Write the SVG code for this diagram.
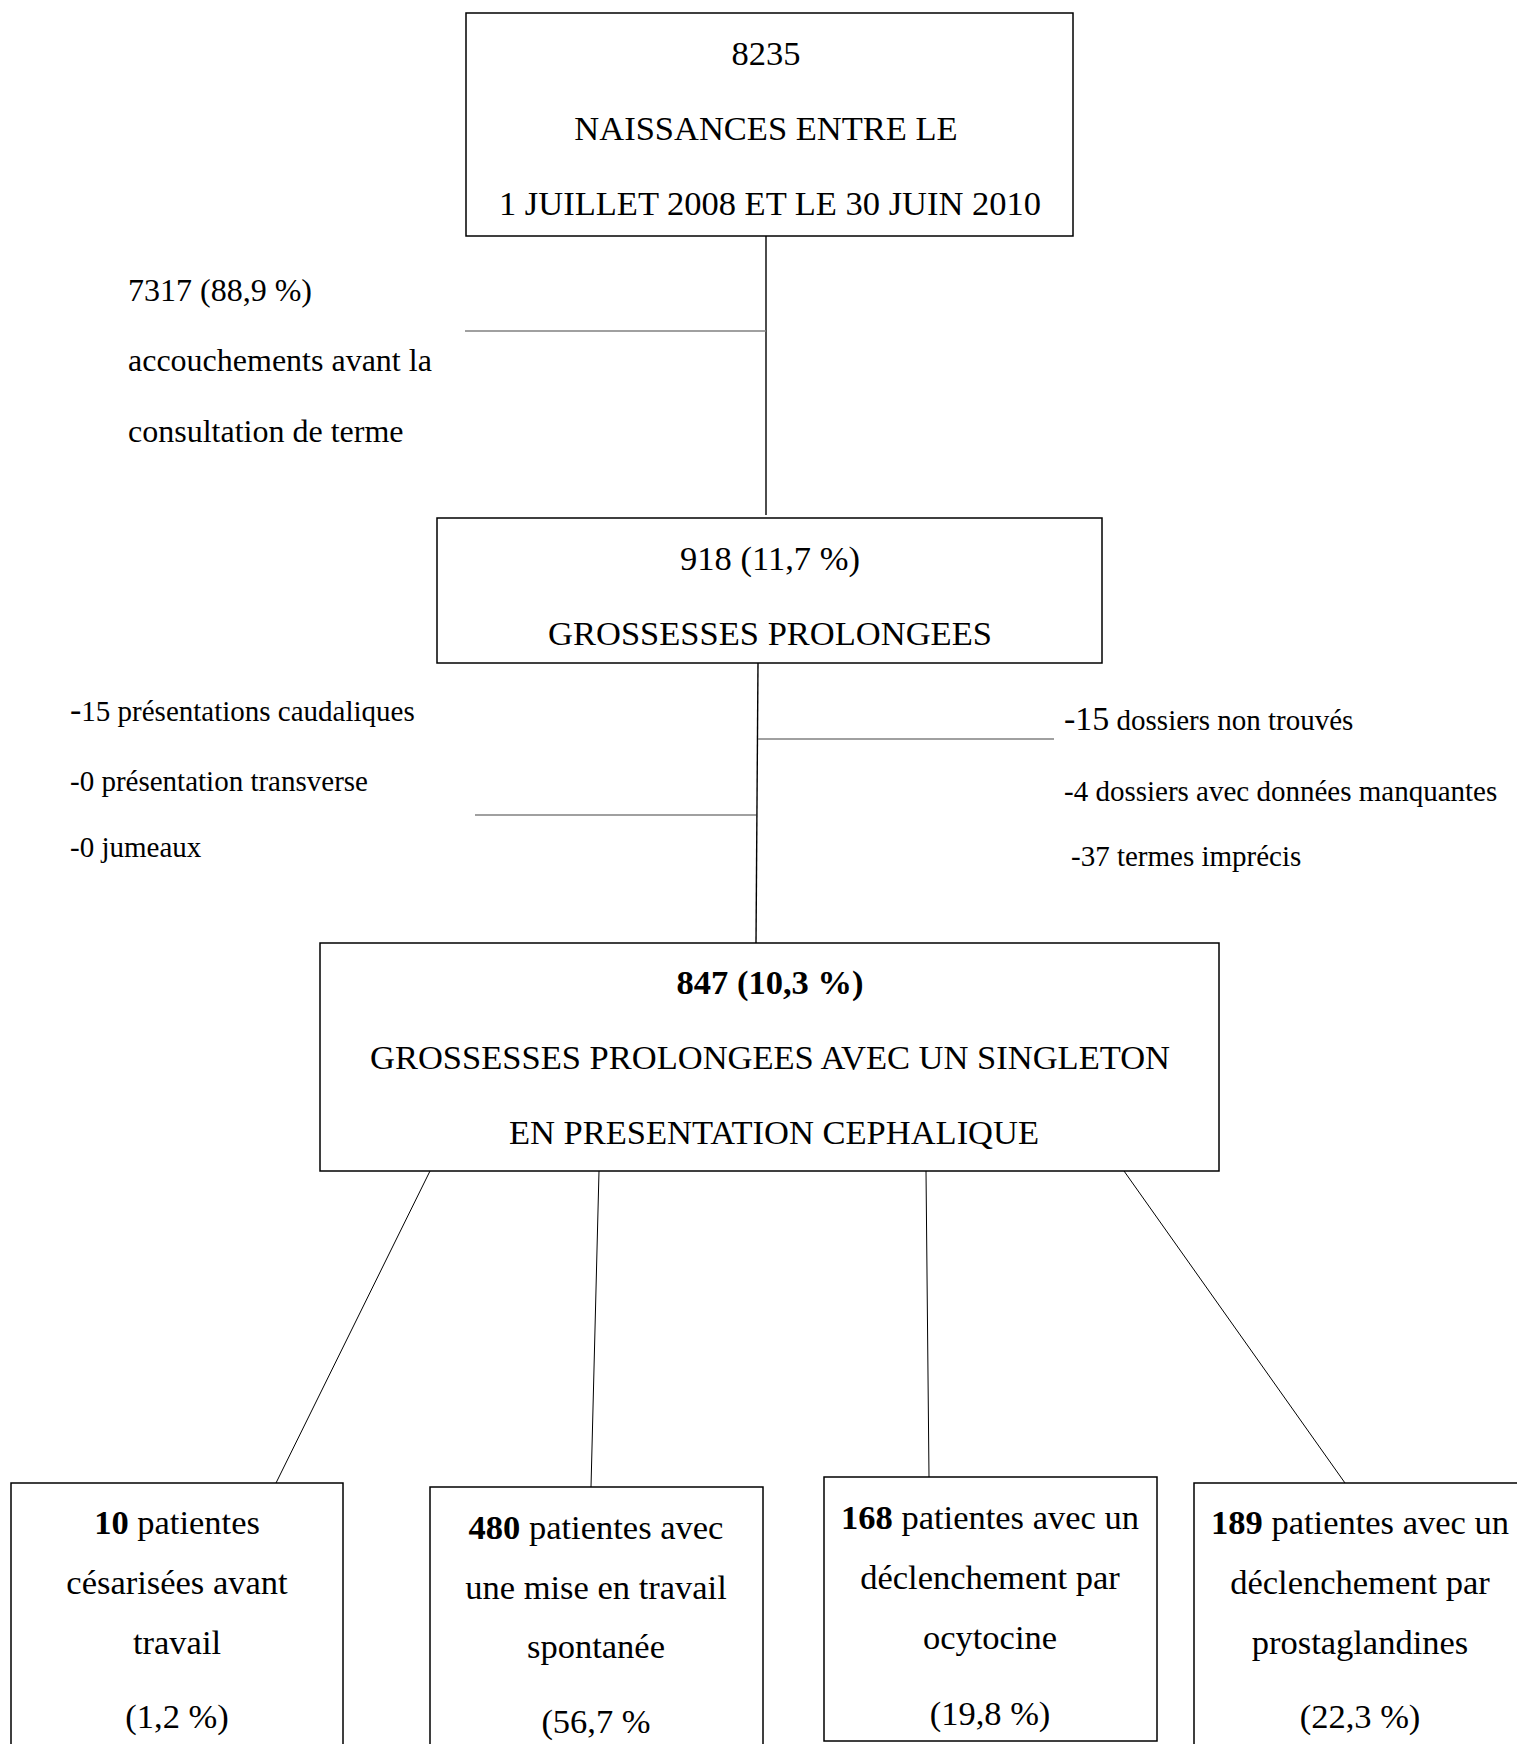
<svg xmlns="http://www.w3.org/2000/svg" width="1517" height="1744" viewBox="0 0 1517 1744">
<style>
.box{fill:#fff;stroke:#000;stroke-width:1.5}
.t{font-family:"Liberation Serif","Times New Roman",serif;fill:#000}
.c{text-anchor:middle;font-size:34.5px}
.s{font-size:32px}
.m{font-size:29px}
.conn{stroke:#000;stroke-width:1.4;fill:none}
.gray{stroke:#808080;stroke-width:1.5;fill:none}
.thin{stroke:#000;stroke-width:1;fill:none}
</style>
<rect width="1517" height="1744" fill="#fff"/>
<g id="connectors">
<line class="conn" x1="766" y1="236" x2="766" y2="515"/>
<line class="gray" x1="465" y1="331" x2="766" y2="331"/>
<line class="conn" x1="758" y1="663" x2="756" y2="943"/>
<line class="gray" x1="758" y1="739" x2="1054" y2="739"/>
<line class="gray" x1="475" y1="815" x2="756" y2="815"/>
<line class="thin" x1="430" y1="1171" x2="276" y2="1483"/>
<line class="thin" x1="599" y1="1171" x2="591" y2="1487"/>
<line class="thin" x1="926" y1="1171" x2="929" y2="1477"/>
<line class="thin" x1="1124" y1="1171" x2="1345" y2="1483"/>
</g>
<g id="n-naissances">
<rect class="box" x="466" y="13" width="607" height="223"/>
<text class="t c" x="766" y="65">8235</text>
<text class="t c" x="766" y="140">NAISSANCES ENTRE LE</text>
<text class="t c" x="770" y="215">1 JUILLET 2008 ET LE 30 JUIN 2010</text>
</g>
<g id="n-avant-terme">
<text class="t s" x="128" y="301">7317 (88,9 %)</text>
<text class="t s" x="128" y="371">accouchements avant la</text>
<text class="t s" x="128" y="442">consultation de terme</text>
</g>
<g id="n-prolongees">
<rect class="box" x="437" y="518" width="665" height="145"/>
<text class="t c" x="770" y="570">918 (11,7 %)</text>
<text class="t c" x="770" y="645">GROSSESSES PROLONGEES</text>
</g>
<g id="n-exclusions-gauche">
<text class="t m" x="70" y="721"><tspan font-size="34">-</tspan>15 présentations caudaliques</text>
<text class="t m" x="70" y="791">-0 présentation transverse</text>
<text class="t m" x="70" y="857">-0 jumeaux</text>
</g>
<g id="n-exclusions-droite">
<text class="t m" x="1064" y="730"><tspan font-size="34">-15</tspan> dossiers non trouvés</text>
<text class="t m" x="1064" y="801">-4 dossiers avec données manquantes</text>
<text class="t m" x="1071" y="866">-37 termes imprécis</text>
</g>
<g id="n-singleton">
<rect class="box" x="320" y="943" width="899" height="228"/>
<text class="t c" x="770" y="994" font-weight="bold">847 (10,3 %)</text>
<text class="t c" x="770" y="1069">GROSSESSES PROLONGEES AVEC UN SINGLETON</text>
<text class="t c" x="774" y="1144">EN PRESENTATION CEPHALIQUE</text>
</g>
<g id="n-cesarisees">
<rect class="box" x="11" y="1483" width="332" height="280"/>
<text class="t c" x="177" y="1534"><tspan font-weight="bold">10</tspan> patientes</text>
<text class="t c" x="177" y="1594">césarisées avant</text>
<text class="t c" x="177" y="1654">travail</text>
<text class="t c" x="177" y="1728">(1,2 %)</text>
</g>
<g id="n-spontanee">
<rect class="box" x="430" y="1487" width="333" height="280"/>
<text class="t c" x="596" y="1539"><tspan font-weight="bold">480</tspan> patientes avec</text>
<text class="t c" x="596" y="1599">une mise en travail</text>
<text class="t c" x="596" y="1658">spontanée</text>
<text class="t c" x="596" y="1733">(56,7 %</text>
</g>
<g id="n-ocytocine">
<rect class="box" x="824" y="1477" width="333" height="264"/>
<text class="t c" x="990" y="1529"><tspan font-weight="bold">168</tspan> patientes avec un</text>
<text class="t c" x="990" y="1589">déclenchement par</text>
<text class="t c" x="990" y="1649">ocytocine</text>
<text class="t c" x="990" y="1725">(19,8 %)</text>
</g>
<g id="n-prostaglandines">
<rect class="box" x="1194" y="1483" width="330" height="280"/>
<text class="t c" x="1360" y="1534"><tspan font-weight="bold">189</tspan> patientes avec un</text>
<text class="t c" x="1360" y="1594">déclenchement par</text>
<text class="t c" x="1360" y="1654">prostaglandines</text>
<text class="t c" x="1360" y="1728">(22,3 %)</text>
</g>
</svg>
